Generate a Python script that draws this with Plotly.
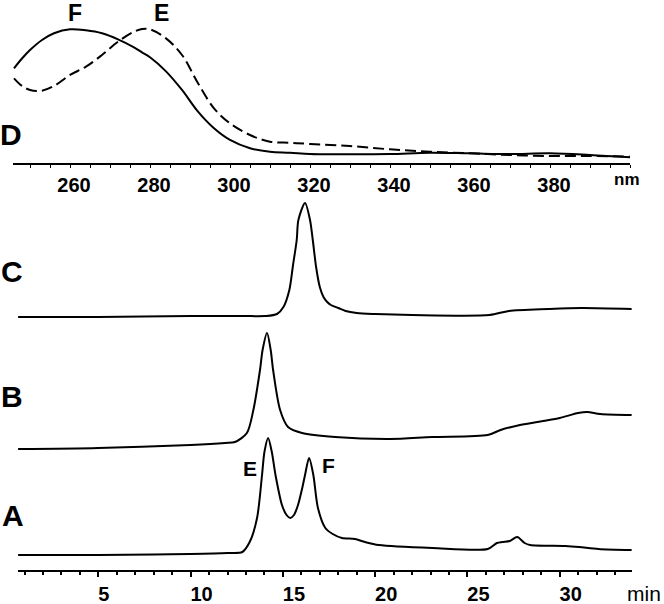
import plotly.graph_objects as go

# --- panel D: UV spectra (normalised absorbance) ---
wavelength = [246, 248, 250, 253, 256, 260, 264, 268, 272, 276, 278, 280, 284, 288, 292,
              296, 300, 305, 310, 315, 320, 330, 340, 350, 360, 370, 380, 390, 400]
spec_F = [0.707, 0.78, 0.843, 0.918, 0.968, 0.998, 0.99, 0.968, 0.923, 0.863, 0.826, 0.789,
          0.684, 0.545, 0.383, 0.259, 0.172, 0.11, 0.084, 0.077, 0.067, 0.065, 0.067, 0.077,
          0.072, 0.067, 0.072, 0.06, 0.043]
spec_E = [0.632, 0.575, 0.545, 0.54, 0.575, 0.657, 0.719, 0.806, 0.905, 0.98, 1.0, 0.998,
          0.93, 0.806, 0.595, 0.408, 0.296, 0.209, 0.159, 0.151, 0.142, 0.127, 0.102, 0.084,
          0.072, 0.06, 0.052, 0.052, 0.047]

# --- panels A-C: chromatograms (stacked, arbitrary units) ---
time_A = [0.65, 3, 5, 8, 10, 12, 12.8, 13.2, 13.6, 13.87, 14.0, 14.2, 14.4, 14.6, 14.95, 15.2,
          15.4, 15.6, 15.82, 16.05, 16.2, 16.42, 16.65, 16.9, 17.3, 17.7, 18.2, 18.9, 19.45,
          20.2, 23.1, 26.1, 26.6, 26.9, 27.3, 27.7, 28.1, 28.4, 30.3, 31.05, 32.1, 33.9]
sig_A = [15, 15, 15, 15.5, 16, 17, 18, 28, 52, 95, 118, 132, 118, 95, 65, 55,
         52, 55, 65, 82, 95, 112, 95, 62, 42, 36, 32, 31, 28,
         25, 22, 21, 27, 28, 29, 33, 27, 25, 24, 23, 21, 20]

time_B = [0.65, 5, 10, 11.87, 12.4, 13.05, 13.4, 13.76, 13.9, 14.14, 14.34, 14.47, 14.85, 15.28,
          16.04, 17.83, 20.8, 23.1, 26.1, 26.8, 27.85, 29.1, 30.0, 31.0, 31.5, 32.2, 33.9]
sig_B = [121, 122, 125, 127, 128, 137, 160, 200, 220, 237, 220, 200, 160, 143,
         137, 133, 131, 133, 135, 140, 145, 149, 152, 157, 158, 156, 155]

time_C = [0.65, 5, 10, 12.85, 14.03, 14.68, 15.03, 15.35, 15.55, 15.75, 15.84, 16.2, 16.47,
          16.62, 16.8, 17.0, 17.2, 17.4, 17.6, 18.0, 18.4, 19.0, 20, 22, 26.2, 27.25, 29.4,
          31.2, 33.9]
sig_C = [253, 253, 254, 254, 254, 256, 263, 280, 305, 330, 350, 367, 350,
         330, 303, 283, 273, 268, 265, 262, 259, 257, 256, 255, 255, 259, 261,
         262, 261]

W, H = 664, 604
FONT = "Liberation Sans, Arial, sans-serif"

fig = go.Figure()
fig.add_trace(go.Scatter(x=wavelength, y=spec_F, mode="lines", line_shape="spline",
                         line=dict(color="black", width=2), xaxis="x", yaxis="y"))
fig.add_trace(go.Scatter(x=wavelength, y=spec_E, mode="lines", line_shape="spline",
                         line=dict(color="black", width=2, dash="11px,5px"), xaxis="x", yaxis="y"))
for t, s in [(time_A, sig_A), (time_B, sig_B), (time_C, sig_C)]:
    fig.add_trace(go.Scatter(x=t, y=s, mode="lines", line_shape="spline",
                             line=dict(color="black", width=2, smoothing=0.8),
                             xaxis="x2", yaxis="y2"))

nm_ticks = [260, 280, 300, 320, 340, 360, 380]
min_ticks = [5, 10, 15, 20, 25, 30]

fig.update_layout(
    width=W, height=H, showlegend=False,
    margin=dict(l=0, r=0, t=0, b=0),
    paper_bgcolor="white", plot_bgcolor="white",
    font=dict(family=FONT, color="black"),
    xaxis=dict(domain=[13 / W, 630 / W], range=[245.75, 400], anchor="y",
               showgrid=False, zeroline=False, showline=True, linecolor="black", linewidth=2,
               ticks="outside", ticklen=3, tickwidth=1, tickcolor="black",
               tickvals=nm_ticks, ticktext=[f"<b>{v}</b>" for v in nm_ticks],
               tickfont=dict(size=20), ticklabelshift=4,
               minor=dict(dtick=5, ticks="outside", ticklen=3, tickcolor="black")),
    yaxis=dict(domain=[1 - 163 / H, 1 - 6 / H], range=[0, 157 / 134], visible=False),
    xaxis2=dict(domain=[18 / W, 632 / W], range=[0.645, 33.92], anchor="y2",
                showgrid=False, zeroline=False, showline=True, linecolor="black", linewidth=2,
                ticks="outside", ticklen=5, tickwidth=1.5, tickcolor="black",
                tickvals=min_ticks, ticktext=[f"<b>{v}</b>" + ("\u2007" if v < 10 else "") for v in min_ticks],
                tickfont=dict(size=20), ticklabelshift=11,
                minor=dict(dtick=1, ticks="outside", ticklen=3, tickcolor="black")),
    yaxis2=dict(domain=[1 - 570 / H, 1 - 190 / H], range=[0, 380], visible=False),
)

labels = [("D", 11, 134, 30), ("F", 75, 13, 23), ("E", 161, 13, 23),
          ("C", 12, 271, 30), ("B", 12, 396, 30), ("A", 13, 515, 30),
          ("E", 250, 468, 21), ("F", 328, 465, 21)]
for txt, px, py, size in labels:
    fig.add_annotation(text=f"<b>{txt}</b>", xref="paper", yref="paper",
                       x=px / W, y=1 - py / H, showarrow=False,
                       font=dict(size=size, family=FONT), xanchor="center", yanchor="middle")
fig.add_annotation(text="<b>nm</b>", xref="paper", yref="paper", x=627 / W, y=1 - 180 / H,
                   showarrow=False, font=dict(size=17), xanchor="center", yanchor="middle")
fig.add_annotation(text="min", xref="paper", yref="paper", x=625 / W, y=1 - 593 / H,
                   showarrow=False, font=dict(size=21), xanchor="left", yanchor="middle")

fig.write_html("out.html", config={"displayModeBar": False},
               post_script="document.body.style.margin='0px';")
